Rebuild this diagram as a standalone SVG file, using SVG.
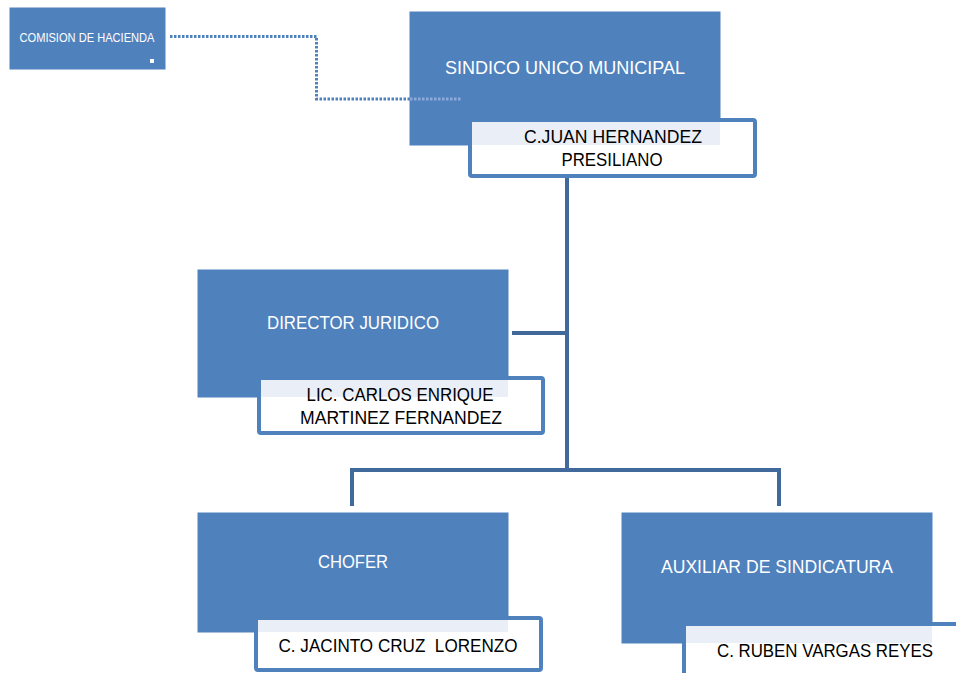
<svg xmlns="http://www.w3.org/2000/svg" width="956" height="673" viewBox="0 0 956 673">
<style>
.box{fill:#4f81bd;stroke:#4f81bd;stroke-width:1}
.nm{fill:#ffffff;stroke:#4f81bd;stroke-width:4}
.band{fill:#e9eef7}
.t{font-family:"Liberation Sans",Arial,sans-serif;font-size:18.5px;fill:#ffffff;text-anchor:middle}
.n{font-family:"Liberation Sans",Arial,sans-serif;font-size:18px;fill:#000000;text-anchor:middle}
.con{fill:none;stroke:#41699b;stroke-width:4}
.dot{fill:none;stroke:#4f81bd;stroke-width:3;stroke-dasharray:2.5 1.5}
</style>
<rect width="956" height="673" fill="#ffffff"/>
<g id="connectors">
<path class="dot" d="M170 36.5 H316.5 V99 H410"/>
<path class="con" d="M567 177 V470 M512 333 H567 M352 506 V470 H779 V506"/>
</g>
<g id="comision">
<rect class="box" x="10" y="8" width="155" height="61"/>
<text class="t" x="87" y="42" style="font-size:12px" textLength="135" lengthAdjust="spacingAndGlyphs">COMISION DE HACIENDA</text>
<rect x="150" y="59" width="4" height="4" fill="#ffffff"/>
</g>
<g id="sindico">
<rect class="box" x="410" y="12" width="310" height="133"/>
<path d="M410 99 H462" fill="none" stroke="#8eaadb" stroke-width="3" stroke-dasharray="2.5 1.5"/>
<text class="t" x="565" y="74" textLength="240" lengthAdjust="spacingAndGlyphs">SINDICO UNICO MUNICIPAL</text>
<rect class="nm" x="470" y="120" width="285" height="56" rx="2"/>
<rect class="band" x="472" y="122" width="248" height="23"/>
<text class="n" x="613" y="143" textLength="178" lengthAdjust="spacingAndGlyphs">C.JUAN HERNANDEZ</text>
<text class="n" x="612" y="166" textLength="101" lengthAdjust="spacingAndGlyphs">PRESILIANO</text>
</g>
<g id="director">
<rect class="box" x="198" y="270" width="310" height="127"/>
<text class="t" x="353" y="329" textLength="172" lengthAdjust="spacingAndGlyphs">DIRECTOR JURIDICO</text>
<rect class="nm" x="259" y="378" width="284" height="55" rx="2"/>
<rect class="band" x="261" y="380" width="247" height="17"/>
<text class="n" x="400" y="401" textLength="187" lengthAdjust="spacingAndGlyphs">LIC. CARLOS ENRIQUE</text>
<text class="n" x="401" y="424" textLength="202" lengthAdjust="spacingAndGlyphs">MARTINEZ FERNANDEZ</text>
</g>
<g id="chofer">
<rect class="box" x="198" y="513" width="310" height="119"/>
<text class="t" x="353" y="568" textLength="70" lengthAdjust="spacingAndGlyphs">CHOFER</text>
<rect class="nm" x="256" y="618" width="285" height="52" rx="2"/>
<rect class="band" x="258" y="620" width="250" height="12"/>
<text class="n" x="398" y="652" textLength="239" lengthAdjust="spacingAndGlyphs" xml:space="preserve">C. JACINTO CRUZ  LORENZO</text>
</g>
<g id="auxiliar">
<rect class="box" x="622" y="513" width="310" height="130"/>
<text class="t" x="777" y="573" textLength="232" lengthAdjust="spacingAndGlyphs">AUXILIAR DE SINDICATURA</text>
<rect class="nm" x="684" y="624" width="290" height="60" rx="2"/>
<rect class="band" x="686" y="626" width="246" height="17"/>
<text class="n" x="825" y="657" textLength="216" lengthAdjust="spacingAndGlyphs">C. RUBEN VARGAS REYES</text>
</g>
</svg>
